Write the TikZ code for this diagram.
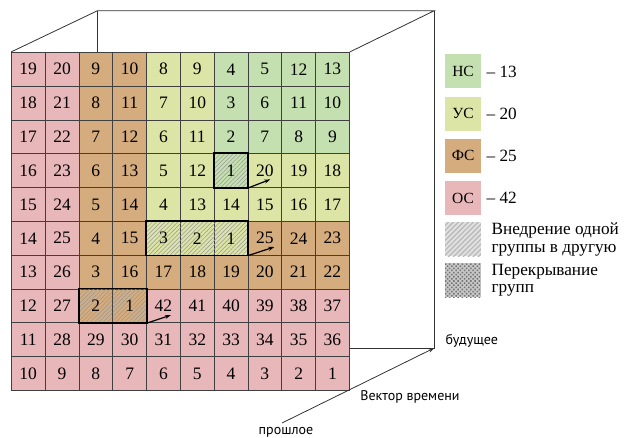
\documentclass[tikz,border=0pt]{standalone}
\usepackage{fontspec}
\setmainfont{Liberation Serif}
\setsansfont{PT Sans}
\newfontfamily\cellfont{Liberation Serif}
\usetikzlibrary{patterns,patterns.meta,arrows.meta}

\definecolor{nsgreen}{RGB}{197,224,176}
\definecolor{usyellow}{RGB}{220,228,166}
\definecolor{fsbrown}{RGB}{212,172,126}
\definecolor{ospink}{RGB}{232,183,186}

\tikzset{
  cell/.style={draw=black!75, line width=0.7pt, minimum size=33.8pt, inner sep=0,
    anchor=north west, font=\cellfont\fontsize{17.5}{17.5}\selectfont},
  hatch/.style={postaction={pattern={Lines[angle=45,distance=3pt,line width=0.5pt]},
    pattern color=black!40}},
  ns/.style={fill=nsgreen}, nsh/.style={ns,hatch},
  us/.style={fill=usyellow}, ush/.style={us,hatch},
  fs/.style={fill=fsbrown}, fsh/.style={fs,hatch},
  os/.style={fill=ospink},
  group/.style={draw=black, line width=1.8pt},
  move/.style={-{Stealth[length=6pt,width=4pt]}, line width=1.2pt},
  edge/.style={draw=black!80, line width=0.8pt},
  key/.style={minimum width=35.7pt, minimum height=34pt, inner sep=0,
    anchor=north west, font=\cellfont\fontsize{15.5}{15.5}\selectfont},
  keytext/.style={anchor=west, align=left, font=\cellfont\fontsize{17.2}{17.3}\selectfont},
  timetext/.style={font=\sffamily\fontsize{14}{14}\selectfont}
}

\begin{document}
\begin{tikzpicture}[x=1pt,y=-1pt]
  \useasboundingbox (0,0) rectangle (624,438);

  \foreach \row [count=\r] in {
    {19/os,20/os,9/fs,10/fs,8/us,9/us,4/ns,5/ns,12/ns,13/ns},
    {18/os,21/os,8/fs,11/fs,7/us,10/us,3/ns,6/ns,11/ns,10/ns},
    {17/os,22/os,7/fs,12/fs,6/us,11/us,2/ns,7/ns,8/ns,9/ns},
    {16/os,23/os,6/fs,13/fs,5/us,12/us,1/nsh,20/us,19/us,18/us},
    {15/os,24/os,5/fs,14/fs,4/us,13/us,14/us,15/us,16/us,17/us},
    {14/os,25/os,4/fs,15/fs,3/ush,2/ush,1/ush,25/fs,24/fs,23/fs},
    {13/os,26/os,3/fs,16/fs,17/fs,18/fs,19/fs,20/fs,21/fs,22/fs},
    {12/os,27/os,2/fsh,1/fsh,42/os,41/os,40/os,39/os,38/os,37/os},
    {11/os,28/os,29/os,30/os,31/os,32/os,33/os,34/os,35/os,36/os},
    {10/os,9/os,8/os,7/os,6/os,5/os,4/os,3/os,2/os,1/os}}
    \foreach \v/\s [count=\k] in \row
      \node (c\r-\k) at ({11+(\k-1)*33.8},{52+(\r-1)*33.8}) [cell,\s]{\v};

  \draw[group] (c4-7.north west) rectangle (c4-7.south east);
  \draw[group] (c6-5.north west) rectangle (c6-7.south east);
  \draw[group] (c8-3.north west) rectangle (c8-4.south east);

  \coordinate (m1) at ([shift={(22,-8.5)}]c4-7.south east);
  \coordinate (m2) at ([shift={(26,-8.5)}]c6-7.south east);
  \coordinate (m3) at ([shift={(24,-8)}]c8-4.south east);
  \draw[move] (c4-7.south east) -- (m1);
  \draw[move] (c6-7.south east) -- (m2);
  \draw[move] (c8-4.south east) -- (m3);

  \coordinate (btl) at (97.5,10.7);
  \coordinate (btr) at (434.3,10.7);
  \coordinate (bbr) at (434.3,348);
  \coordinate (past) at (282,423);

  \draw[edge] (c1-1.north west) -- (btl) -- (btr) -- (c1-10.north east);
  \draw[edge] (btl) -- (btl |- c1-1.north);
  \draw[edge] (btr) -- (bbr) -- (bbr -| c10-10.east);
  \draw[edge,-{Stealth[length=6pt,width=4pt]}] (past) -- (bbr);

  \node (future) at (442,341) [timetext,anchor=west]{будущее};
  \node (vector) at (410,397) [timetext]{Вектор времени};
  \node (before) at (286,432) [timetext]{прошлое};

  \foreach \s/\t/\n [count=\i] in {ns/НС/13,us/УС/20,fs/ФС/25,os/ОС/42}{
    \node (key\i) at (445,{54.3+(\i-1)*42.2}) [key,\s]{\t};
    \node (num\i) at ([xshift=2pt]key\i.east) [keytext]{– \n};
  }
  \node (key5) at (445,222.3) [key,fill=black!12,
    postaction={pattern={Lines[angle=45,distance=3.5pt,line width=1.2pt]}, pattern color=black!28}]{};
  \node (key6) at (445,263.3) [key,fill=black!22,
    postaction={pattern={Dots[angle=45,distance=3pt,radius=1.1pt]}, pattern color=black!55}]{};
  \node (txt5) at ([xshift=7pt]key5.east) [keytext]{Внедрение одной\\группы в другую};
  \node (txt6) at ([xshift=7pt]key6.east) [keytext]{Перекрывание\\групп};

\end{tikzpicture}
\end{document}
